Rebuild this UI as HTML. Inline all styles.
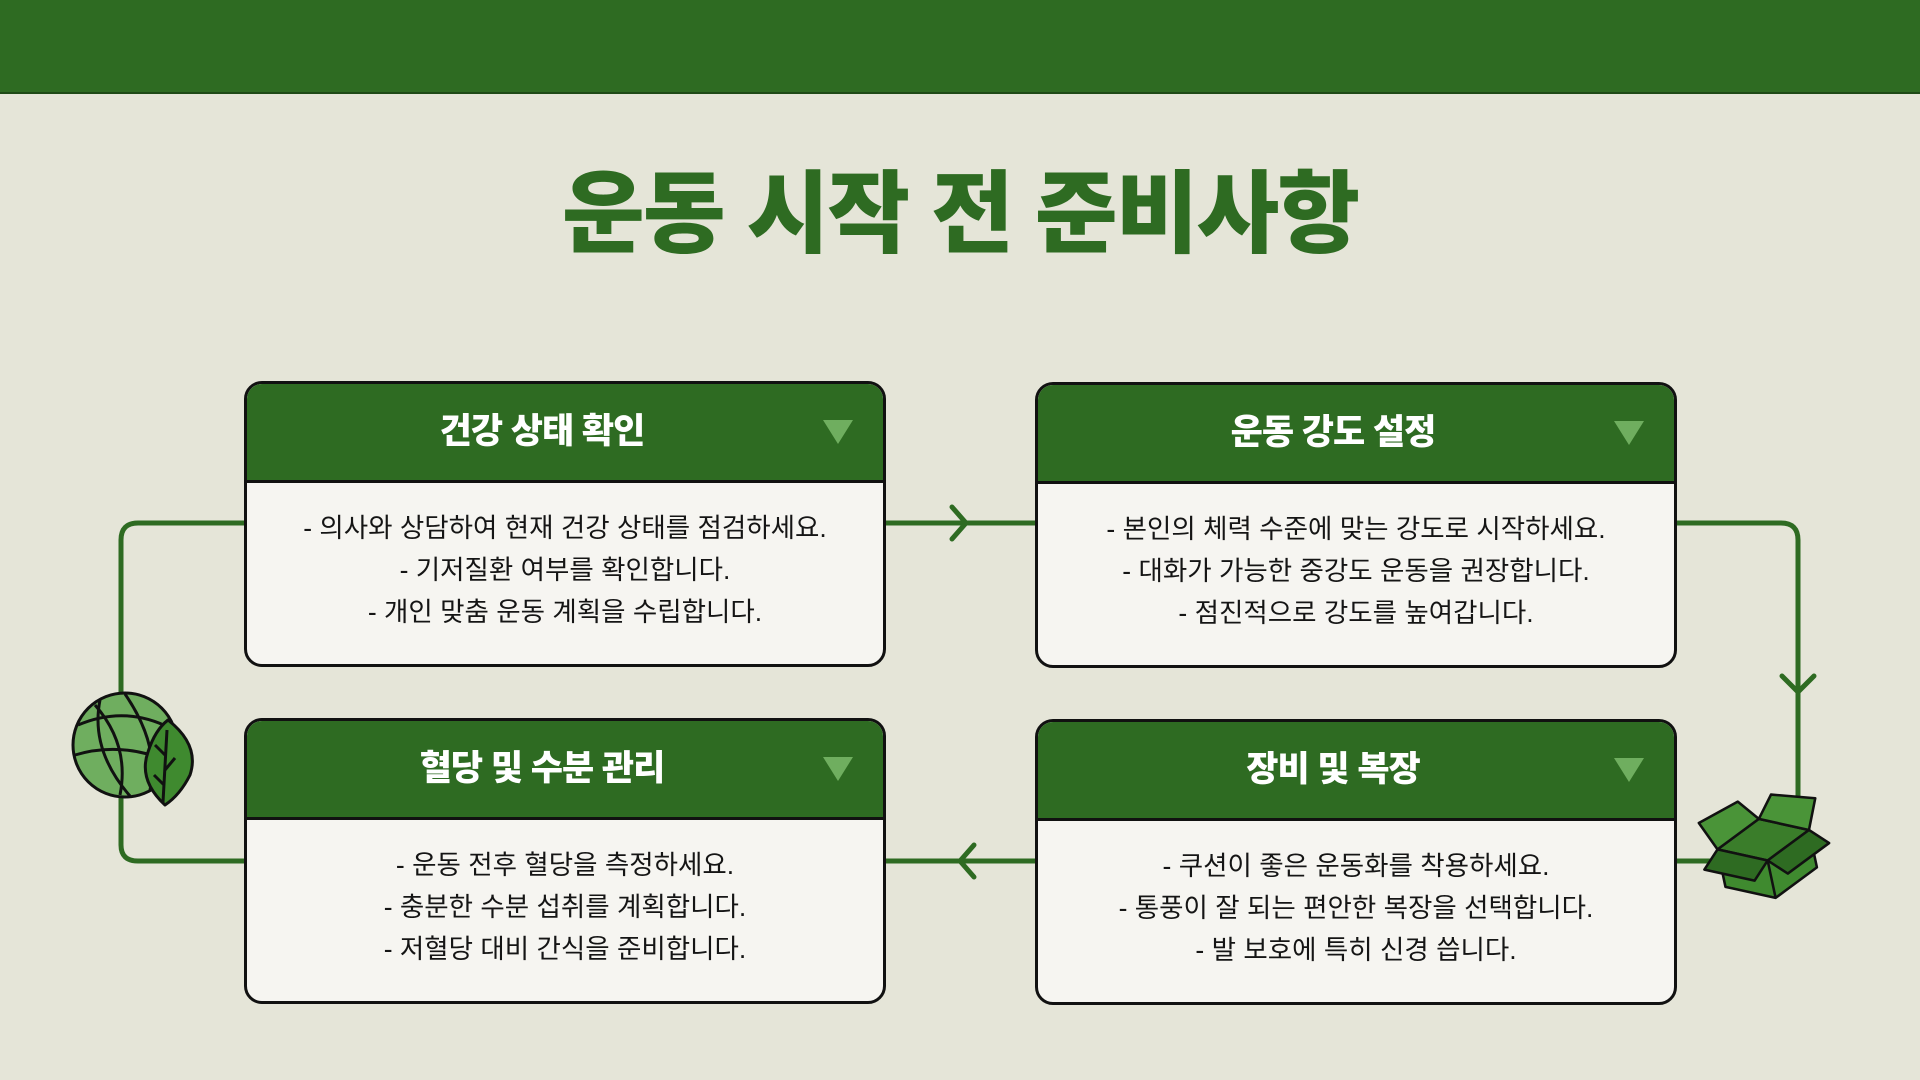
<!DOCTYPE html>
<html><head><meta charset="utf-8"><style>
body{margin:0;width:1920px;height:1080px;background:#e5e5d8;position:relative;overflow:hidden;font-family:"Liberation Sans","Noto Sans CJK KR",sans-serif}
.top{position:absolute;left:0;top:0;width:1920px;height:92px;background:#2e6b22;border-bottom:2px solid #1f4a17}
h1{position:absolute;left:0;width:1920px;top:160px;margin:0;text-align:center;font-size:90px;font-weight:900;color:#2e6b22;letter-spacing:-2px;line-height:110px}
.box{position:absolute;width:636px;height:280px;border:3px solid #111;border-radius:18px;background:#f6f5f1;overflow:hidden}
.hd{height:96px;background:#2e6b22;border-bottom:3px solid #111;color:#fff;font-weight:900;font-size:35px;text-align:center;line-height:96px;position:relative;letter-spacing:-1px;padding-right:46px}
.tri{position:absolute;right:30px;top:36px;width:0;height:0;border-left:15px solid transparent;border-right:15px solid transparent;border-top:24px solid #6fae5f}
.bd{text-align:center;font-size:26.5px;color:#151515;line-height:42px;padding-top:24px}
svg{position:absolute;left:0;top:0}
</style></head><body>
<div class="top"></div>
<h1>운동 시작 전 준비사항</h1>
<svg width="1920" height="1080">
<g fill="none" stroke="#2e6b22" stroke-width="5" stroke-linecap="round" stroke-linejoin="round">
<path d="M244 523 H138 Q121 523 121 540 V845 Q121 861 138 861 H244"/>
<path d="M884 523 H1035"/><path d="M952 507 L966 523 L952 539"/>
<path d="M1676 523 H1781 Q1798 523 1798 540 V861 H1676"/><path d="M1782 676 L1798 692 L1814 676"/>
<path d="M1035 861 H884"/><path d="M974 845 L960 861 L974 877"/>
</g>
<g stroke="#111" stroke-width="3" stroke-linejoin="round">
<ellipse cx="125" cy="745" rx="52" ry="52" fill="#6fae5f"/>
<g fill="none"><path d="M78 725 Q125 705 170 728"/><path d="M75 755 Q125 740 177 765"/><path d="M95 705 Q130 745 120 795"/><path d="M125 694 Q160 745 150 790"/><path d="M100 700 Q90 750 130 796"/></g>
<path d="M168 720 Q200 745 190 775 Q180 795 165 805 Q138 780 148 752 Q155 730 168 720Z" fill="#3f8a2f"/>
<path d="M167 730 L163 802 M165 755 L155 745 M165 770 L175 758 M164 785 L154 775" fill="none"/>
<g transform="translate(1765 848) rotate(-12) scale(0.85)">
<path d="M-55 -10 L0 15 L55 -10 L55 35 L0 60 L-55 35Z" fill="#3f8a2f"/>
<path d="M-55 -10 L0 -35 L55 -10 L0 15Z" fill="#3a7d2a"/>
<path d="M-55 -10 L-70 -45 L-20 -60 L0 -35Z" fill="#4a9438"/>
<path d="M55 -10 L70 -45 L20 -60 L0 -35Z" fill="#4a9438"/>
<path d="M-55 -10 L-75 10 L-20 35 L0 15Z" fill="#2e6b22"/>
<path d="M55 -10 L75 10 L20 35 L0 15Z" fill="#2e6b22"/>
<path d="M0 15 L0 60" fill="none"/>
</g>
</g>
</svg>
<div class="box" style="left:244px;top:381px"><div class="hd">건강 상태 확인<span class="tri"></span></div><div class="bd">- 의사와 상담하여 현재 건강 상태를 점검하세요.<br>- 기저질환 여부를 확인합니다.<br>- 개인 맞춤 운동 계획을 수립합니다.</div></div>
<div class="box" style="left:1035px;top:382px"><div class="hd">운동 강도 설정<span class="tri"></span></div><div class="bd">- 본인의 체력 수준에 맞는 강도로 시작하세요.<br>- 대화가 가능한 중강도 운동을 권장합니다.<br>- 점진적으로 강도를 높여갑니다.</div></div>
<div class="box" style="left:244px;top:718px"><div class="hd">혈당 및 수분 관리<span class="tri"></span></div><div class="bd">- 운동 전후 혈당을 측정하세요.<br>- 충분한 수분 섭취를 계획합니다.<br>- 저혈당 대비 간식을 준비합니다.</div></div>
<div class="box" style="left:1035px;top:719px"><div class="hd">장비 및 복장<span class="tri"></span></div><div class="bd">- 쿠션이 좋은 운동화를 착용하세요.<br>- 통풍이 잘 되는 편안한 복장을 선택합니다.<br>- 발 보호에 특히 신경 씁니다.</div></div>
</body></html>
